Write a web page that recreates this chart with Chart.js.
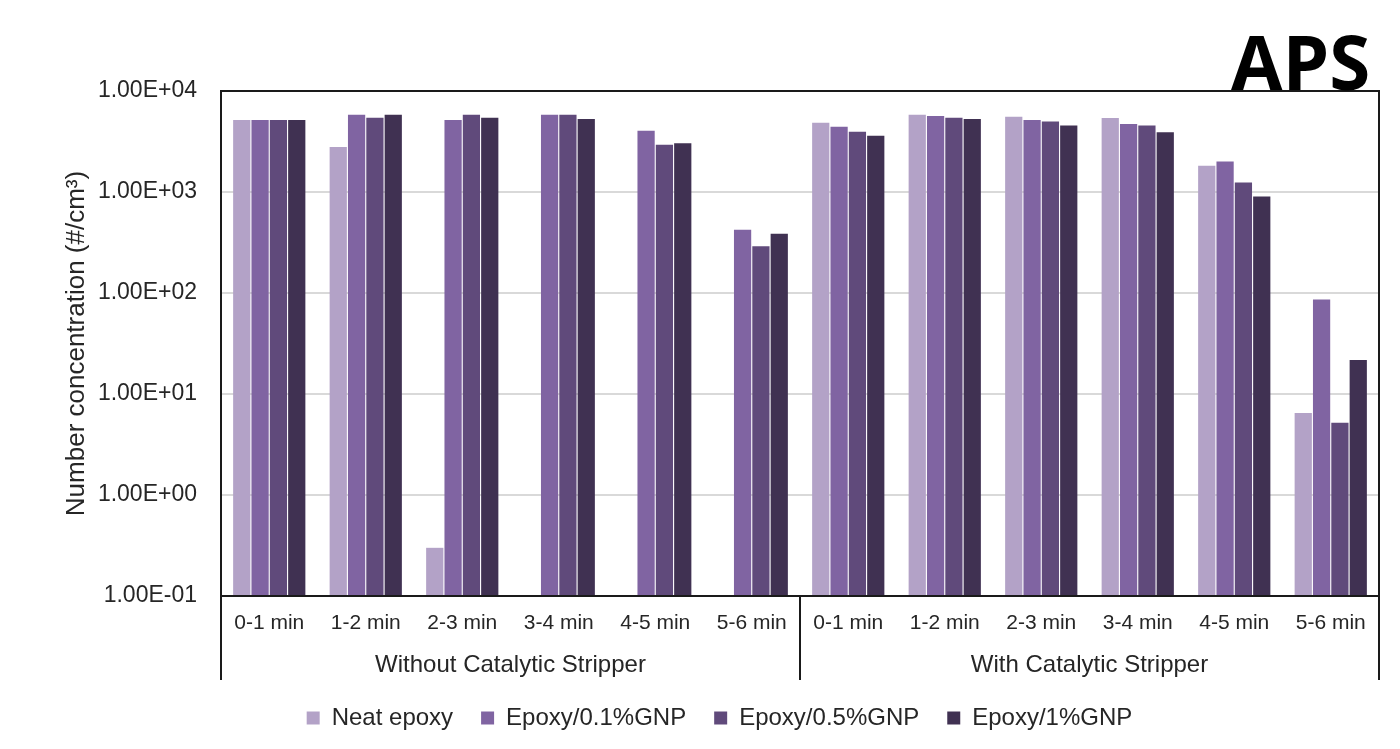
<!DOCTYPE html>
<html>
<head>
<meta charset="utf-8">
<title>APS number concentration</title>
<script src="https://cdn.jsdelivr.net/npm/chart.js@4.4.1/dist/chart.umd.min.js"></script>
<style>
  html, body { margin: 0; padding: 0; background: #fff; }
  canvas { display: block; }
</style>
</head>
<body>
<canvas id="apsChart" width="1400" height="749"></canvas>
<script>
/* ---------- Data ---------- */
const categories = [
  '0-1 min', '1-2 min', '2-3 min', '3-4 min', '4-5 min', '5-6 min',
  '0-1 min', '1-2 min', '2-3 min', '3-4 min', '4-5 min', '5-6 min'
];
const groupLabels = ['Without Catalytic Stripper', 'With Catalytic Stripper'];
const seriesNames = ['Neat epoxy', 'Epoxy/0.1%GNP', 'Epoxy/0.5%GNP', 'Epoxy/1%GNP'];

const neatEpoxy = [5150, 2790, 0.3, null, null, null, 4840, 5820, 5560, 5390, 1820, 6.5];
const gnp01     = [5150, 5820, 5150, 5820, 4030, 422, 4420, 5650, 5150, 4700, 2000, 86];
const gnp05     = [5150, 5430, 5820, 5820, 2930, 290, 3940, 5430, 5000, 4560, 1245, 5.2];
const gnp1      = [5150, 5820, 5430, 5270, 3040, 387, 3600, 5270, 4560, 3910, 903, 21.7];

const yTickValues = [0.1, 1, 10, 100, 1000, 10000];
const yTickLabels = ['1.00E-01', '1.00E+00', '1.00E+01', '1.00E+02', '1.00E+03', '1.00E+04'];

/* ---------- Style ---------- */
const COLORS = ['#b3a2c7', '#8064a2', '#604a7b', '#403152'];
const FONT = '"Liberation Sans", Arial, sans-serif';
const TEXT = '#262626';
const FRAME = '#1a1a1a';
const TABLE_BOTTOM = 680;
const LEGEND_SHIFT = 30;
// "APS" tag box in the original: right edge, glyph bottom, width, height
const TAG = { right: 1368, bottom: 91, width: 137, height: 56 };

/* ---------- Frame, group labels, tag ---------- */
const framePlugin = {
  id: 'frame',
  afterLayout(chart) {
    // legend sits a little right of centre in the original
    chart.legend.left += LEGEND_SHIFT;
    chart.legend.right += LEGEND_SHIFT;
  },
  afterDatasetsDraw(chart) {
    const { ctx, chartArea: a, scales: { x } } = chart;
    const sep = (x.getPixelForValue(5) + x.getPixelForValue(6)) / 2;
    ctx.save();
    ctx.strokeStyle = FRAME;
    ctx.lineWidth = 2;
    ctx.beginPath();
    ctx.moveTo(a.left, TABLE_BOTTOM); ctx.lineTo(a.left, a.top);
    ctx.lineTo(a.right, a.top); ctx.lineTo(a.right, TABLE_BOTTOM);
    ctx.moveTo(a.left, a.bottom); ctx.lineTo(a.right, a.bottom);
    ctx.moveTo(sep, a.bottom); ctx.lineTo(sep, TABLE_BOTTOM);
    ctx.stroke();

    ctx.fillStyle = TEXT;
    ctx.font = `24px ${FONT}`;
    ctx.textAlign = 'center';
    ctx.textBaseline = 'middle';
    ctx.fillText(groupLabels[0], (a.left + sep) / 2, 665);
    ctx.fillText(groupLabels[1], (sep + a.right) / 2, 665);

    // big bold tag, stretched to the box it fills in the original
    ctx.fillStyle = '#000';
    ctx.textAlign = 'right';
    ctx.textBaseline = 'alphabetic';
    ctx.font = 'bold 100px "Open Sans", sans-serif';
    const m = ctx.measureText('APS');
    const w = m.actualBoundingBoxLeft + m.actualBoundingBoxRight;
    const h = m.actualBoundingBoxAscent + m.actualBoundingBoxDescent;
    ctx.translate(TAG.right, TAG.bottom);
    ctx.scale(TAG.width / w, TAG.height / h);
    ctx.fillText('APS', -m.actualBoundingBoxRight, -m.actualBoundingBoxDescent);
    ctx.restore();
  }
};

const datasets = [neatEpoxy, gnp01, gnp05, gnp1].map((values, i) => ({
  label: seriesNames[i],
  data: values,
  backgroundColor: COLORS[i],
  borderWidth: 0,
  barPercentage: 0.94,
  categoryPercentage: 0.76
}));

new Chart(document.getElementById('apsChart'), {
  type: 'bar',
  data: { labels: categories, datasets },
  plugins: [framePlugin],
  options: {
    responsive: false,
    animation: false,
    layout: { padding: { top: 91, right: 21, left: 0, bottom: 9 } },
    plugins: {
      tooltip: { enabled: false },
      legend: {
        position: 'bottom',
        labels: {
          color: TEXT,
          font: { family: FONT, size: 24 },
          boxWidth: 13,
          boxHeight: 13,
          padding: 28
        }
      }
    },
    scales: {
      x: {
        grid: { display: false, drawTicks: false },
        border: { display: false },
        ticks: { color: TEXT, font: { family: FONT, size: 21 }, padding: 15, maxRotation: 0, autoSkip: false },
        afterFit: (s) => { s.height = 82; }
      },
      y: {
        type: 'logarithmic',
        min: 0.1,
        max: 10000,
        afterBuildTicks: (s) => { s.ticks = yTickValues.map(v => ({ value: v })); },
        afterFit: (s) => { s.width = 221; },
        grid: {
          drawTicks: false,
          lineWidth: 2,
          color: (c) => (c.tick && (c.tick.value === 0.1 || c.tick.value === 10000)) ? 'rgba(0,0,0,0)' : '#d9d9d9'
        },
        border: { display: false },
        ticks: {
          color: TEXT,
          font: { family: FONT, size: 23 },
          padding: 24,
          callback: (v) => yTickLabels[yTickValues.indexOf(v)] ?? ''
        },
        title: {
          display: true,
          text: 'Number concentration (#/cm³)',
          color: TEXT,
          font: { family: FONT, size: 26 },
          padding: { top: 61, bottom: 0 }
        }
      }
    }
  }
});
</script>
</body>
</html>
